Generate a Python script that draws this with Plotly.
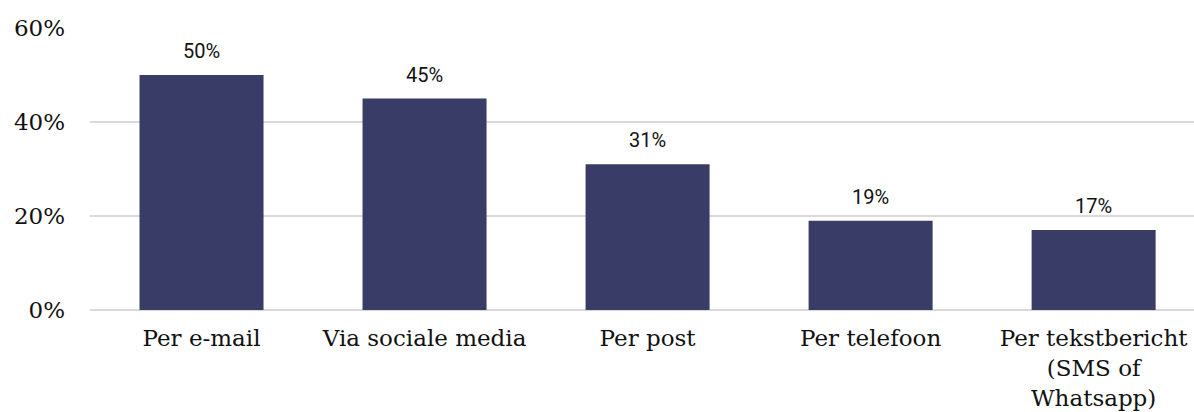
import plotly.graph_objects as go

categories = ["Per e-mail", "Via sociale media", "Per post", "Per telefoon", "Per tekstbericht<br>(SMS of<br>Whatsapp)"]
values = [50, 45, 31, 19, 17]
tick_vals = [0, 20, 40, 60]
tick_text = ["0%", "20%", "40%", "60%"]

bar_color = "#383C66"
serif = "DejaVu Serif"

fig = go.Figure()
fig.add_trace(go.Bar(x=categories, y=values, marker=dict(color=bar_color, line=dict(width=0)),
                     width=0.556, hoverinfo="skip"))

for c, v in zip(categories, values):
    fig.add_annotation(x=c, y=v, text=f"{v}%", showarrow=False, yanchor="bottom", yshift=10,
                       font=dict(family="Roboto", size=20, color="#111111"))

fig.update_layout(
    width=1194, height=412,
    margin=dict(l=90, r=0, t=28, b=102),
    plot_bgcolor="white", paper_bgcolor="white",
    showlegend=False,
)
fig.update_xaxes(range=[-0.5, 4.45], showgrid=False, showline=False, ticks="",
                 tickfont=dict(family=serif, size=23, color="#111111"), ticklabelstandoff=12)
fig.update_yaxes(range=[0, 60], tickvals=tick_vals, ticktext=tick_text, showgrid=True,
                 gridcolor="#d9d9d9", gridwidth=1.5, zeroline=True, zerolinecolor="#d9d9d9", zerolinewidth=1.5,
                 showline=False, ticks="", tickfont=dict(family=serif, size=23, color="#111111"),
                 ticklabelstandoff=24)

fig.write_html("out.html", config={"displayModeBar": False},
               post_script="document.body.style.margin='0';")
